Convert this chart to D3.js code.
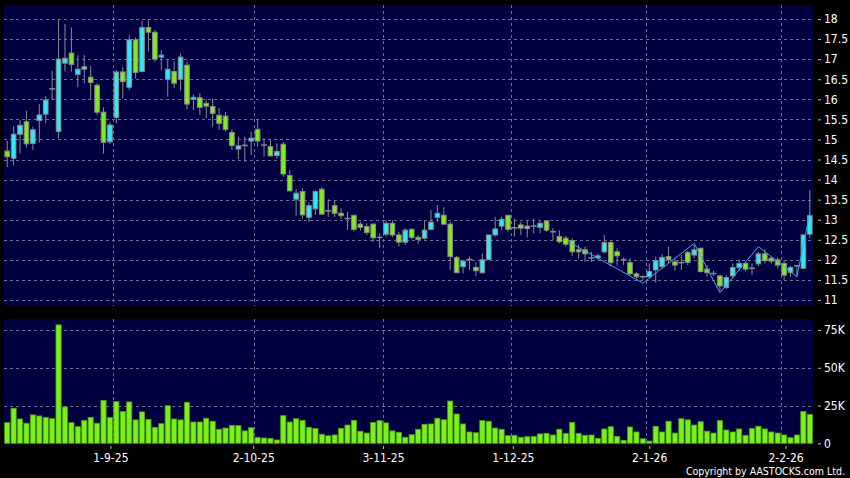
<!DOCTYPE html>
<html>
<head>
<meta charset="utf-8">
<script src="https://cdn.jsdelivr.net/npm/d3@7"></script>
<style>
  html, body { margin: 0; padding: 0; background: #000; }
  svg { display: block; }
  text { font-family: "DejaVu Sans Condensed", "DejaVu Sans", sans-serif; font-stretch: condensed; fill: #fff; }
</style>
</head>
<body>
<div id="chart"></div>
<script>
// daily OHLC, one entry per trading day (Aug-25 .. Feb-26)
var open = [14.71,14.53,15.13,15.44,14.9,15.47,15.63,16.26,15.2,16.9,17.15,16.62,16.75,16.55,16.35,15.68,14.94,15.55,16.68,16.3,
  17.48,16.69,17.79,17.67,17.05,16.5,16.69,16.5,16.85,16.0,16.04,15.9,15.82,15.6,15.58,15.17,14.76,14.85,14.96,15.25,
  14.86,14.82,14.6,14.88,14.1,13.51,13.7,13.06,13.27,13.76,13.22,13.35,13.16,13.03,13.11,12.89,12.83,12.89,12.56,12.64,
  12.91,12.62,12.44,12.76,12.56,12.54,12.76,13.06,13.11,12.89,12.06,11.83,12.01,11.81,11.68,12.01,12.62,12.84,13.11,12.8,
  12.87,12.84,12.84,12.81,12.97,12.7,12.58,12.54,12.48,12.25,12.25,12.05,12.05,12.2,12.43,12.2,12.0,11.93,11.65,11.58,
  11.58,11.75,11.83,12.08,11.95,11.93,12.18,12.12,12.29,11.77,11.66,11.6,11.31,11.6,11.81,11.91,11.79,11.9,12.15,12.04,
  12.0,11.91,11.69,11.85,11.79,12.64];
var high = [14.97,15.33,15.48,15.71,15.32,15.88,16.08,16.71,18.0,17.88,17.79,17.1,17.1,16.83,16.4,15.8,15.42,16.73,16.81,17.6,
  17.54,17.95,17.98,17.73,17.23,17.0,16.95,17.15,16.94,16.12,16.15,16.0,16.02,15.78,15.69,15.24,15.07,15.07,15.19,15.5,
  15.03,14.99,14.9,14.94,14.24,13.76,13.78,13.42,13.74,13.81,13.51,13.49,13.28,13.2,13.12,12.95,12.91,12.91,12.66,12.99,
  12.99,12.7,12.79,12.79,12.62,12.99,13.24,13.37,13.31,12.95,12.1,12.0,12.08,11.93,12.16,12.63,13.07,13.07,13.12,13.03,
  12.95,12.99,13.03,12.98,12.99,12.79,12.74,12.6,12.54,12.37,12.33,12.2,12.15,12.62,12.49,12.29,12.06,12.04,11.7,11.62,
  11.91,12.08,12.15,12.33,12.06,12.12,12.22,12.37,12.3,11.87,11.73,11.62,11.62,11.91,12.01,11.95,11.91,12.2,12.26,12.08,
  12.06,11.98,11.85,11.87,12.64,13.74];
var low = [14.31,14.35,14.65,14.8,14.74,14.92,15.4,15.98,15.03,16.69,16.69,16.3,16.4,16.0,15.6,14.65,14.89,15.4,16.02,16.23,
  16.52,16.69,17.19,16.94,16.73,16.06,16.28,16.21,15.75,15.73,15.61,15.53,15.32,15.24,15.19,14.74,14.51,14.43,14.61,14.82,
  14.57,14.57,14.53,14.07,13.7,13.1,13.03,12.94,13.12,13.12,13.07,13.07,13.01,12.74,12.7,12.73,12.62,12.45,12.29,12.58,
  12.56,12.33,12.37,12.51,12.4,12.51,12.74,12.95,12.87,11.75,11.68,11.66,11.75,11.6,11.66,12.0,12.58,12.74,12.7,12.58,
  12.62,12.56,12.66,12.66,12.7,12.49,12.41,12.33,12.1,12.04,11.95,11.95,12.0,12.16,11.83,11.87,11.87,11.62,11.54,11.5,
  11.54,11.43,11.79,11.91,11.73,11.75,11.87,12.04,11.68,11.58,11.6,11.21,11.27,11.54,11.73,11.71,11.62,11.85,11.91,11.9,
  11.79,11.5,11.58,11.58,11.79,12.54];
var close = [14.57,15.13,15.35,14.89,15.24,15.61,15.98,16.26,17.0,17.02,16.87,16.75,16.81,16.42,15.68,14.93,15.36,16.68,16.44,17.48,
  16.67,17.79,17.67,17.0,17.1,16.75,16.4,17.05,15.88,16.05,15.8,15.83,15.65,15.4,15.25,14.85,14.84,14.85,15.03,14.96,
  14.86,14.59,14.7,14.14,13.72,13.66,13.12,13.35,13.7,13.14,13.22,13.16,13.1,13.03,12.76,12.81,12.68,12.55,12.56,12.91,
  12.62,12.44,12.74,12.56,12.51,12.74,12.94,13.16,12.89,12.08,11.68,11.97,12.01,11.73,12.0,12.62,12.77,13.01,12.76,12.8,
  12.79,12.78,12.84,12.91,12.74,12.7,12.45,12.39,12.2,12.2,12.15,12.05,12.1,12.43,11.93,12.1,12.0,11.65,11.58,11.58,
  11.71,11.98,12.06,12.0,11.87,11.93,11.94,12.25,11.71,11.68,11.66,11.35,11.56,11.81,11.91,11.77,11.79,12.15,11.98,11.97,
  11.87,11.62,11.81,11.85,12.62,13.1];
// volume in thousands of shares
var volume = [13.7,23.2,16.1,13.3,18.8,18.1,17.2,16.3,78.4,24.1,13.7,11,15.2,17.2,13.3,28.3,17,27.6,21,27.4,
  15.5,20.8,15.9,10.6,13,24.9,16.1,15.5,27.2,14.1,14.1,16.6,14.6,9.3,10.1,11.9,11.7,8.2,10.3,4,
  3.5,3.3,2.2,18.3,14.1,16.3,15.2,10.6,9.9,6,5,5.5,9.9,12.1,15.2,8,6.8,13.7,15,13.5,
  8.2,7.3,4,5.7,9.3,12.6,12.8,16.6,15.6,28,19.4,12.8,7.5,7,15,14.6,10.1,9.3,5,5.3,
  4,4.4,4.6,6.2,6.6,5.5,9.3,6.6,13.9,6.6,5.3,5.5,3.3,9.5,11,4.6,2,10.8,7.5,3,
  1.5,11.3,7.5,14.6,6.8,16.3,15.5,12.1,14.3,8,6.8,15,8.8,7.5,9.5,5.3,9.9,11.3,9.5,7.5,
  6.8,5.5,3.7,5.5,21,19.2];
// zigzag overlay: [day index, price]
var zigIndex = [88, 99, 107, 111, 117, 123, 125];
var zigPrice = [12.40, 11.42, 12.41, 11.18, 12.33, 11.58, 13.16];

var xTickIndex = [17, 39, 59, 79, 100, 121];
var xTickLabels = ["1-9-25", "2-10-25", "3-11-25", "1-12-25", "2-1-26", "2-2-26"];
var priceTicks = [11, 11.5, 12, 12.5, 13, 13.5, 14, 14.5, 15, 15.5, 16, 16.5, 17, 17.5, 18];
var volTicks = [0, 25, 50, 75];

var w = 850, h = 478;
var left = 4, right = 814;
var topY0 = 5, topY1 = 306, botY0 = 319, botY1 = 443.3;
var upColor = "#30e8f6", downColor = "#80ea1e", edge = "#8a8a8a";

var svg = d3.select("#chart").append("svg")
    .attr("width", w).attr("height", h);

var n = close.length;
var x = d3.scaleBand().domain(d3.range(n)).range([left, 813]);
var bw = x.bandwidth();
var xLab = d3.scaleLinear().domain([0, n]).range([0, 818]);
var y = d3.scaleLinear().domain([11, 18]).range([300, 19]);
var yv = d3.scaleLinear().domain([0, 75]).range([botY1, 330]);

// panels
svg.append("rect").attr("x", left).attr("y", topY0).attr("width", right - left).attr("height", topY1 - topY0).attr("fill", "#000040");
svg.append("rect").attr("x", left).attr("y", botY0).attr("width", right - left).attr("height", botY1 - botY0).attr("fill", "#000040");

// grid
var grid = svg.append("g").attr("stroke", "#6c6c96").attr("stroke-width", 1).attr("stroke-dasharray", "3,3");
grid.selectAll(".hp").data(priceTicks).enter().append("line")
    .attr("x1", left).attr("x2", right)
    .attr("y1", function (d) { return Math.round(y(d)) + 0.5; })
    .attr("y2", function (d) { return Math.round(y(d)) + 0.5; });
grid.selectAll(".hv").data(volTicks.slice(1)).enter().append("line")
    .attr("x1", left).attr("x2", right)
    .attr("y1", function (d) { return Math.round(yv(d)) + 0.5; })
    .attr("y2", function (d) { return Math.round(yv(d)) + 0.5; });
grid.selectAll(".vt").data(xTickIndex).enter().append("line")
    .attr("x1", function (d) { return Math.round(x(d)) + 0.5; })
    .attr("x2", function (d) { return Math.round(x(d)) + 0.5; })
    .attr("y1", topY0).attr("y2", topY1);
grid.selectAll(".vb").data(xTickIndex).enter().append("line")
    .attr("x1", function (d) { return Math.round(x(d)) + 0.5; })
    .attr("x2", function (d) { return Math.round(x(d)) + 0.5; })
    .attr("y1", botY0).attr("y2", botY1);

// candles
var days = d3.range(n);
var cg = svg.append("g");
cg.selectAll(".wick").data(days).enter().append("line")
    .attr("x1", function (i) { return x(i) + bw / 2; })
    .attr("x2", function (i) { return x(i) + bw / 2; })
    .attr("y1", function (i) { return y(high[i]); })
    .attr("y2", function (i) { return y(low[i]); })
    .attr("stroke", edge).attr("stroke-width", 1);
cg.selectAll(".body").data(days.filter(function (i) { return open[i] !== close[i]; })).enter().append("rect")
    .attr("x", function (i) { return x(i) + bw / 2 - 2.3; })
    .attr("width", 4.6)
    .attr("y", function (i) { return y(Math.max(open[i], close[i])); })
    .attr("height", function (i) { return Math.max(1.5, Math.abs(y(open[i]) - y(close[i]))); })
    .attr("fill", function (i) { return close[i] > open[i] ? upColor : downColor; })
    .attr("stroke", edge).attr("stroke-width", 1);
cg.selectAll(".doji").data(days.filter(function (i) { return open[i] === close[i]; })).enter().append("line")
    .attr("x1", function (i) { return x(i) + bw / 2 - 3; })
    .attr("x2", function (i) { return x(i) + bw / 2 + 3; })
    .attr("y1", function (i) { return y(close[i]); })
    .attr("y2", function (i) { return y(close[i]); })
    .attr("stroke", edge).attr("stroke-width", 1.5);

// zigzag
var zig = d3.line()
    .x(function (d, k) { return x(zigIndex[k]) + bw / 2; })
    .y(function (d, k) { return y(zigPrice[k]); });
svg.append("path").datum(zigIndex).attr("d", zig)
    .attr("fill", "none").attr("stroke", "#3fa6ea").attr("stroke-width", 1);

// volume bars
svg.append("g").selectAll("rect").data(days).enter().append("rect")
    .attr("x", function (i) { return x(i) + bw / 2 - 2.6; })
    .attr("width", 5.2)
    .attr("y", function (i) { return yv(volume[i]); })
    .attr("height", function (i) { return botY1 - yv(volume[i]); })
    .attr("fill", "#7cf01a").attr("stroke", "#4c9c12").attr("stroke-width", 0.8);

// axes
var yAxis = d3.axisRight(y).tickValues(priceTicks).tickSize(3).tickPadding(3)
    .tickFormat(function (d) { return String(d); });
var ga = svg.append("g").attr("transform", "translate(818,0)").call(yAxis);
var vAxis = d3.axisRight(yv).tickValues(volTicks).tickSize(3).tickPadding(3)
    .tickFormat(function (d) { return d === 0 ? "0" : d + "K"; });
var gv = svg.append("g").attr("transform", "translate(818,0)").call(vAxis);
var xAxis = d3.axisBottom(xLab).tickValues(xTickIndex).tickSize(3).tickPadding(4)
    .tickFormat(function (d, k) { return xTickLabels[k]; });
var gx = svg.append("g").attr("transform", "translate(0,446)").call(xAxis);

[ga, gv, gx].forEach(function (g) {
    g.select(".domain").remove();
    g.selectAll(".tick line").attr("stroke", "#bbbbbb");
    g.selectAll(".tick text").attr("fill", "#fff").style("font-size", "12px")
        .style("font-family", null);
});

svg.append("text")
    .attr("x", 845).attr("y", 475)
    .attr("text-anchor", "end")
    .style("font-size", "10.5px")
    .text("Copyright by AASTOCKS.com Ltd.");
</script>
</body>
</html>
